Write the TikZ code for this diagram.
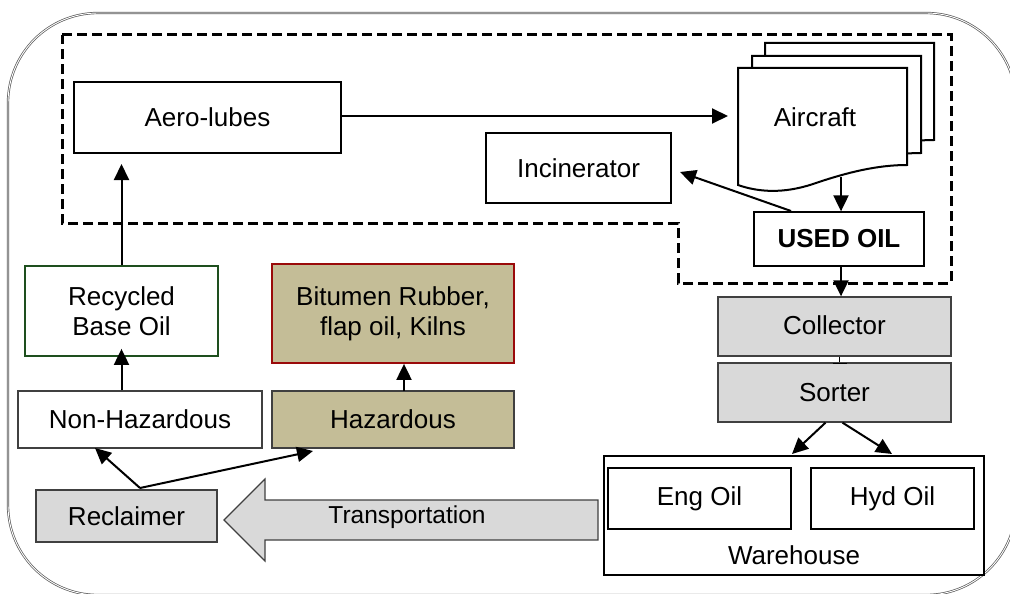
\documentclass[tikz,border=0pt]{standalone}
\usepackage{fontspec}
\setmainfont{Liberation Sans}
\usetikzlibrary{arrows.meta}
\definecolor{boxgray}{HTML}{D9D9D9}
\definecolor{tan}{HTML}{C4BD97}
\definecolor{darkgreen}{HTML}{1E4F1E}
\definecolor{darkred}{HTML}{9A0A0A}
\definecolor{edgegray}{HTML}{404040}
\tikzset{
  x=1pt, y=-1pt,
  every node/.style={font=\fontsize{26}{30}\selectfont, align=center, inner sep=0pt},
  plainbox/.style={draw=black, line width=2pt, fill=white, rectangle},
  thinbox/.style={draw=black, line width=1.3pt, fill=white, rectangle},
  graybox/.style={draw=edgegray, line width=1.3pt, fill=boxgray, rectangle},
  tanbox/.style={draw=edgegray, line width=1.3pt, fill=tan, rectangle},
  flow/.style={line width=2pt, -{Triangle[length=16pt,width=15pt]}},
  docpage/.style={draw=black, line width=2pt, fill=white},
}
\begin{document}
\begin{tikzpicture}
\useasboundingbox (0,0) rectangle (1010,594);
\clip (0,0) rectangle (1010,594);

% outer rounded frame
\draw[draw=gray!70!black, double=white, line width=0.7pt, double distance=0.9pt, rounded corners=90pt]
  (8,13) rectangle (1016,595);

% dashed boundary of the airside area
\draw[line width=3pt, dash pattern=on 10pt off 5pt]
  (62,35) -- (951,35) -- (951,283) -- (678,283) -- (678,223) -- (62,223) -- cycle;

% stacked aircraft pages
\foreach \dx/\dy in {27/-25, 14/-12, 0/0}{
  \begin{scope}[shift={(738+\dx,68+\dy)}]
    \draw[docpage] (0,0) -- (169,0) -- (169,97)
      .. controls (140,97) and (110,104) .. (75,116)
      .. controls (45,126) and (20,124) .. (0,117) -- cycle;
  \end{scope}
}
\node[minimum width=169pt, minimum height=117pt] (aircraft) at (822.5,126.5) {};
\node (aircraftlabel) at (815,117) {Aircraft};

% boxes
\node[plainbox, minimum width=267pt, minimum height=71pt] (aero) at (207.5,117.5) {Aero-lubes};
\node[plainbox, minimum width=185pt, minimum height=70pt] (incin) at (578.5,168) {Incinerator};
\node[thinbox, minimum width=170pt, minimum height=54pt, font=\fontsize{26}{30}\selectfont\bfseries] (usedoil) at (839,239) {USED OIL};
\node[graybox, minimum width=233pt, minimum height=59pt] (collector) at (834.5,326.5) {\raisebox{3pt}{Collector}};
\node[graybox, minimum width=233pt, minimum height=59pt] (sorter) at (834.5,392.5) {Sorter};
\node[thinbox, minimum width=380pt, minimum height=119pt] (warehouse) at (794,515.5) {};
\node (whlabel) at (794,555) {Warehouse};
\node[thinbox, minimum width=183pt, minimum height=61pt] (engoil) at (699.5,498.5) {Eng Oil};
\node[thinbox, minimum width=163pt, minimum height=61pt] (hydoil) at (892.5,498.5) {Hyd Oil};

\node[draw=darkgreen, line width=1.8pt, fill=white, minimum width=193pt, minimum height=90pt] (recycled) at (121.5,311) {Recycled\\Base Oil};
\node[draw=darkred, line width=1.8pt, fill=tan, minimum width=242pt, minimum height=99pt] (bitumen) at (393,313.5) {Bitumen Rubber,\\flap oil, Kilns};
\node[draw=edgegray, line width=1.3pt, fill=white, minimum width=244pt, minimum height=57pt] (nonhaz) at (140,419.5) {Non-Hazardous};
\node[tanbox, minimum width=242pt, minimum height=57pt] (haz) at (393,419.5) {Hazardous};
\node[graybox, minimum width=181pt, minimum height=52pt] (reclaimer) at (126.5,516) {Reclaimer};

% transportation arrow
\draw[draw=edgegray, line width=1.1pt, fill=boxgray]
  (224,520) -- (265,479) -- (265,500) -- (598,500) -- (598,540) -- (265,540) -- (265,561) -- cycle;
\node[font=\fontsize{24.5}{28}\selectfont] (transport) at (407,517) {Transportation};

% connector end points
\coordinate (aircraftin) at (728,116);
\coordinate (aircraftout) at (841,177);
\coordinate (usedoilleft) at (791,211);
\coordinate (incinin) at (680,172);
\coordinate (reclaimtop) at (140,488);
\coordinate (nonhazin) at (95,448);
\coordinate (hazin) at (313,451);

% connectors
\draw[flow] (aero.east |- aircraftin) -- (aircraftin);
\draw[flow] (recycled.north) -- ([yshift=-10pt]aero.south -| recycled.north);
\draw[flow] (aircraftout) -- (aircraftout |- usedoil.north);
\draw[flow] (usedoilleft) -- (incinin);
\draw[flow] (usedoil.south -| aircraftout) -- (collector.north -| aircraftout);
\draw[line width=1.3pt] ([xshift=5pt]collector.south) -- ([xshift=5pt]sorter.north);
\draw[line width=1.3pt] ([xshift=-2pt,yshift=-1pt]sorter.north) -- ([xshift=12pt,yshift=-1pt]sorter.north);
\draw[flow] ([xshift=-9pt]sorter.south) -- (792,454);
\draw[flow] ([xshift=8pt]sorter.south) -- (892,454);
\draw[flow] (nonhaz.north -| recycled.south) -- ([yshift=8pt]recycled.south);
\draw[flow] (404,391) -- (bitumen.south -| 404,391);
\draw[flow] (reclaimtop) -- (nonhazin);
\draw[flow] (reclaimtop) -- (hazin);
\end{tikzpicture}
\end{document}
